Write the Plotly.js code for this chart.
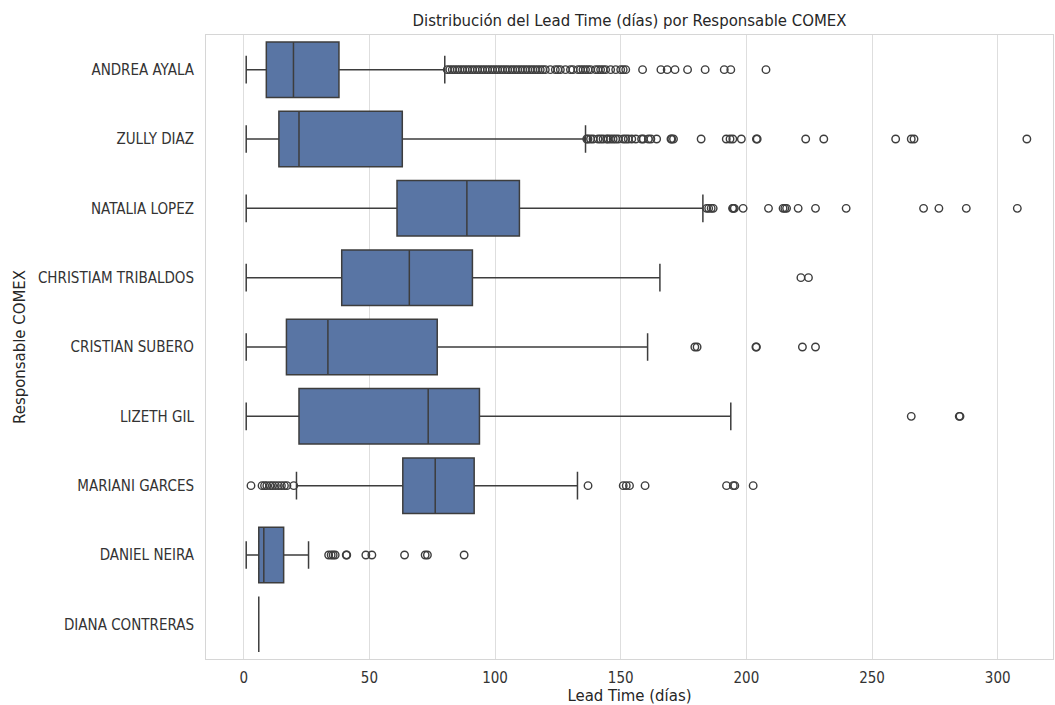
<!DOCTYPE html>
<html>
<head>
<meta charset="utf-8">
<script src="https://cdn.plot.ly/plotly-3.0.1.min.js"></script>
<style>
html,body{margin:0;padding:0;background:#fff;}
#chart{width:1055px;height:705px;}
</style>
</head>
<body>
<div id="chart"></div>
<script>
// Responsables (top to bottom)
const responsables = ["ANDREA AYALA","ZULLY DIAZ","NATALIA LOPEZ","CHRISTIAM TRIBALDOS","CRISTIAN SUBERO","LIZETH GIL","MARIANI GARCES","DANIEL NEIRA","DIANA CONTRERAS"];

// Box statistics (Lead Time in days)
const lowerWhisker = [1, 1, 1, 1, 1, 1, 21, 1, 6];
const q1Values     = [9, 14, 61, 39, 17, 22, 63.3, 6, 6];
const medianValues = [19.8, 22, 88.8, 65.9, 33.5, 73.4, 76.2, 8, 6];
const q3Values     = [37.9, 63.1, 109.7, 91, 77, 93.8, 91.7, 15.9, 6];
const upperWhisker = [80, 136, 182.7, 165.6, 160.7, 193.8, 132.8, 25.8, 6];

// Outliers per responsable
const outAndrea = [81,82,83,84,85,86,87,88,89,90,91,92,93,94,95,96,97,98,99,100,101,102,103,104,105,106,107,108,109,110,111,112,113,114,115,116,117,118,119,120,122,124,125,126,128,130,131,133,134,135,136,137,138,140,141,142,143,144,146,148,150,151,152,158.7,166,168.5,171.6,176.6,183.6,191.2,193.8,207.8];
const outZully = [136.5,137,138,139,141,142,143,144.4,145,146,147,148,149,151,152,153,154.4,156,158.3,159,161,162,164.3,170,170.3,171,182,192,193.5,194.6,198,204,204.3,223.6,230.8,259.4,265.6,266.7,311.6];
const outNatalia = [184.2,185,186,186.8,194.5,194.8,195.2,198.7,208.8,214.6,215.3,216,220.6,227.5,239.7,270.5,276.6,287.5,307.8];
const outChristiam = [221.7,224.7];
const outCristian = [179.5,180.4,203.8,204,222.3,227.5];
const outLizeth = [265.6,284.7,285];
const outMariani = [2.9,7.3,8.3,9.2,10.5,11.5,12.6,13.8,15,16.2,17.2,19.9,137,151,152.2,153.5,159.7,192.1,194.8,195.4,202.7];
const outDaniel = [33.8,34.8,35.6,36.4,40.8,41,48.6,51,64,72.2,73.1,87.7];
const outDiana = [];

const outliers = [outAndrea,outZully,outNatalia,outChristiam,outCristian,outLizeth,outMariani,outDaniel,outDiana];

const xTicks = [0,50,100,150,200,250,300];

const outX = [], outY = [];
outliers.forEach((arr,i)=>arr.forEach(v=>{outX.push(v); outY.push(responsables[i]);}));

const FONT = "'DejaVu Sans Condensed', 'DejaVu Sans', sans-serif";
const lineCol = '#3d3d3d';

const boxTrace = {
  type: 'box',
  orientation: 'h',
  y: responsables,
  q1: q1Values,
  median: medianValues,
  q3: q3Values,
  lowerfence: lowerWhisker,
  upperfence: upperWhisker,
  width: 0.8,
  whiskerwidth: 0.5,
  fillcolor: '#5975A4',
  line: {color: lineCol, width: 1.5},
  boxpoints: false,
  hoverinfo: 'skip',
  showlegend: false
};

const outTrace = {
  type: 'scatter',
  mode: 'markers',
  x: outX,
  y: outY,
  marker: {symbol: 'circle-open', size: 7.5, color: lineCol, line: {width: 1.4, color: lineCol}},
  hoverinfo: 'skip',
  showlegend: false
};

const layout = {
  width: 1055,
  height: 705,
  margin: {l: 206, r: 2, t: 35, b: 46},
  paper_bgcolor: '#ffffff',
  plot_bgcolor: '#ffffff',
  font: {family: FONT, size: 15, color: '#333333'},
  title: {
    text: 'Distribución del Lead Time (días) por Responsable COMEX',
    font: {family: FONT, size: 16.6, color: '#262626'},
    x: 0.5, xref: 'paper', y: 0.972, yref: 'container', xanchor: 'center', yanchor: 'middle'
  },
  xaxis: {
    range: [-15, 322],
    tickvals: xTicks,
    ticktext: xTicks.map(String),
    showgrid: true,
    gridcolor: '#dedede',
    gridwidth: 1,
    zeroline: false,
    showline: true,
    linecolor: '#d6d6d6',
    linewidth: 1,
    mirror: true,
    ticks: '',
    ticklen: 0,
    ticklabelstandoff: 5,
    tickfont: {family: FONT, size: 15, color: '#333333'},
    title: {text: 'Lead Time (días)', font: {family: FONT, size: 16.6, color: '#262626'}, standoff: 8}
  },
  yaxis: {
    type: 'category',
    categoryorder: 'array',
    categoryarray: responsables,
    range: [8.5, -0.5],
    showgrid: false,
    zeroline: false,
    showline: true,
    linecolor: '#d6d6d6',
    linewidth: 1,
    mirror: true,
    ticks: '',
    ticklabelstandoff: 8,
    tickfont: {family: FONT, size: 15, color: '#333333'},
    title: {text: 'Responsable COMEX', font: {family: FONT, size: 16.6, color: '#262626'}, standoff: 8}
  }
};

Plotly.newPlot('chart', [boxTrace, outTrace], layout, {displayModeBar: false, staticPlot: true});
</script>
</body>
</html>
